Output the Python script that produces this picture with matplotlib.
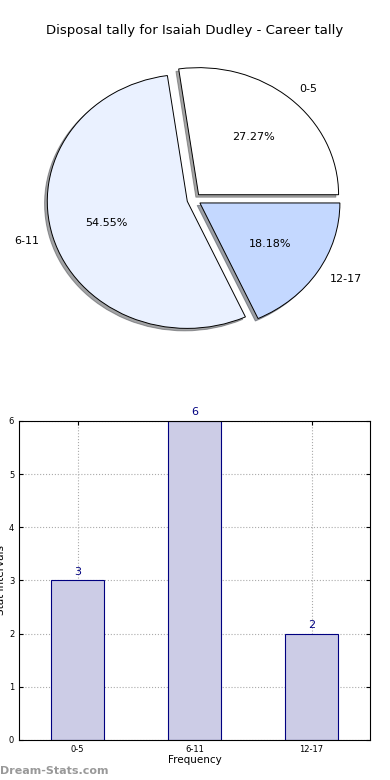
import matplotlib
matplotlib.use("Agg")
import matplotlib.pyplot as plt

categories = ["0-5", "6-11", "12-17"]
counts = [3, 6, 2]
pie_colors = ["#ffffff", "#eaf1ff", "#c4d8ff"]
title = "Disposal tally for Isaiah Dudley - Career tally"

fig = plt.figure(figsize=(3.9, 7.8), dpi=100)

# pie (old-style, not forced to a circle)
ax_pie = fig.add_axes([0.0667, 0.5487, 0.8615, 0.391])
wedges, texts, autotexts = ax_pie.pie(
    counts,
    labels=categories,
    colors=pie_colors,
    explode=[0.05] * len(counts),
    autopct="%1.2f%%",
    shadow={"ox": -0.014, "oy": -0.014},
    startangle=0,
    wedgeprops={"edgecolor": "black", "linewidth": 0.7},
    textprops={"fontsize": 8},
)
ax_pie.set_aspect("auto")
ax_pie.set_xlim(-1.2, 1.2)
ax_pie.set_ylim(-1.2, 1.2)
ax_pie.axis("off")
fig.text(0.5, 0.961, title, ha="center", va="center", fontsize=9.5)

# bar chart
ax_bar = fig.add_axes([0.049, 0.0513, 0.9, 0.409])
x = range(len(categories))
ax_bar.bar(x, counts, width=0.45, color="#cccce6",
           edgecolor="navy", linewidth=0.8, zorder=2)
for xi, c in zip(x, counts):
    ax_bar.text(xi, c + 0.07, str(c), ha="center", va="bottom", color="navy", fontsize=8)
ax_bar.set_xlim(-0.5, 2.5)
ax_bar.set_ylim(0, 6)
ax_bar.set_xticks(list(x))
ax_bar.set_xticklabels(categories)
ax_bar.set_yticks(range(0, 7))
ax_bar.tick_params(labelsize=6, direction="in", top=True, right=True, length=3)
ax_bar.grid(True, linestyle=":", color="#aaaaaa", linewidth=0.8, zorder=0)
ax_bar.set_axisbelow(True)
ax_bar.set_xlabel("Frequency", fontsize=7.5, labelpad=1)
ax_bar.set_ylabel("Stat Intervals", fontsize=7.5, labelpad=2)

fig.text(0.0, 0.012, "Dream-Stats.com", color="#999999", fontsize=8,
         fontweight="bold", ha="left", va="center")

fig.savefig("out.png", dpi=100)
